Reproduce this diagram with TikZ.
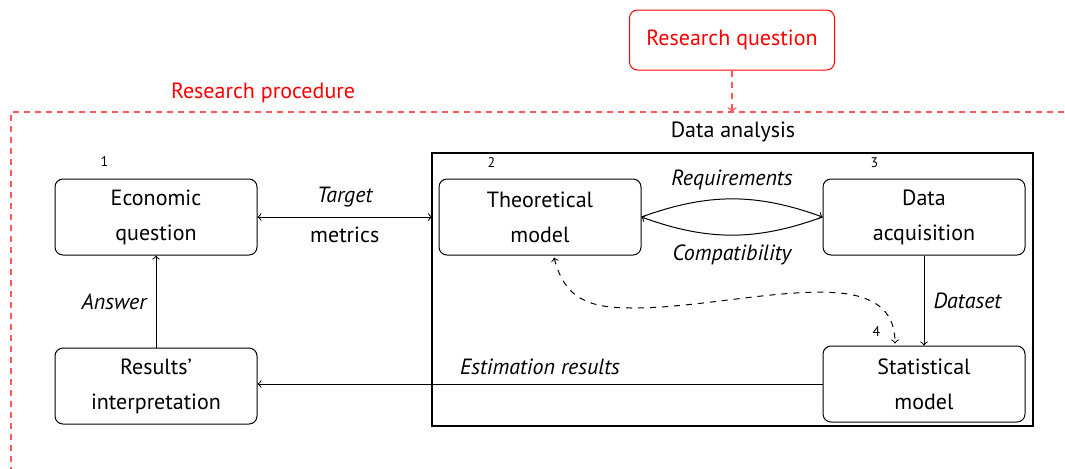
\documentclass[tikz,border=0pt]{standalone}
\usepackage{fontspec}
\setmainfont{PT Sans}
\usetikzlibrary{positioning,calc}

\begin{document}
\begin{tikzpicture}
      [x=0.5pt, y=-0.5pt, line width=0.5pt,
      stage/.style={draw, rounded corners=4pt, minimum width=101pt, minimum height=38pt,
        align=center, node distance=192pt, font=\fontsize{11}{17.5}\selectfont},
      tag/.style={font=\fontsize{7}{8}\selectfont, inner sep=0pt},
      link/.style={font=\fontsize{11}{13}\selectfont\itshape, inner sep=4.5pt},
      procedure/.style={red!65, line width=0.7pt, dash pattern=on 3pt off 2.5pt},
      ]
      \useasboundingbox (0,0) rectangle (1065,468);

      % research procedure frame
      \coordinate (PA) at (11,112);
      \coordinate (PR) at (1075,112);
      \coordinate (PB) at (11,475);
      \draw[procedure] (PR) -- (PA) -- (PB);
      \node[text=red, font=\fontsize{11}{13}\selectfont] (RP) at (263,93) {Research procedure};

      \node[stage, draw=red, text=red, minimum width=102.5pt, minimum height=30pt] (RQ) at (732,40) {Research question};
      \draw[procedure, ->] (RQ.south) -- (RQ.south |- PA);

      % data analysis frame
      \coordinate (FA) at (432,153);
      \coordinate (FB) at (1033,426);
      \draw[line width=0.7pt] (FA) rectangle (FB);
      \node[font=\fontsize{11}{13}\selectfont] (DA) at (733,132) {Data analysis};

      \node[stage] (N1) at (156,217) {Economic\\question};
      \node[stage, right of=N1] (N2) {Theoretical\\model};
      \node[stage, right of=N2] (N3) {Data\\acquisition};
      \node[stage, node distance=83.5pt, below of=N3] (N4) {Statistical\\model};
      \node[stage, node distance=84.5pt, below of=N1] (N5) {Results'\\interpretation};

      \node[tag] (T1) at ($(N1.north west)+(50,-17)$) {1};
      \node[tag] (T2) at ($(N2.north west)+(53,-16)$) {2};
      \node[tag] (T3) at ($(N3.north west)+(52,-16)$) {3};
      \node[tag] (T4) at ($(N4.north west)+(54,-14)$) {4};

      \draw[<->] (N1.east) -- (N1.east -| FA)
        node[midway, above, link]{Target} node[midway, below, link, font=\fontsize{11}{13}\selectfont]{metrics};
      \draw[->] (N2.east) to[bend left=20] node[above, link]{Requirements} (N3.west);
      \draw[->] (N3.west) to[bend left=20] node[below, link]{Compatibility} (N2.east);
      \draw[->] (N3) -- node[right, link]{Dataset} (N4);
      \draw[->] (N4.west) -- node[above, link]{Estimation results} (N4.west -| N5.east);
      \draw[->] (N5) -- node[left, link]{Answer} (N1);
      \draw[<->, dashed] ($(N2.south)+(14,2)$) .. controls (565,300) and (590,308) .. (633,308)
        .. controls (700,308) and (780,288) .. (840,293)
        .. controls (880,297) and (895,315) .. ($(N4.north)+(-29,-2)$);
    \end{tikzpicture}
\end{document}
